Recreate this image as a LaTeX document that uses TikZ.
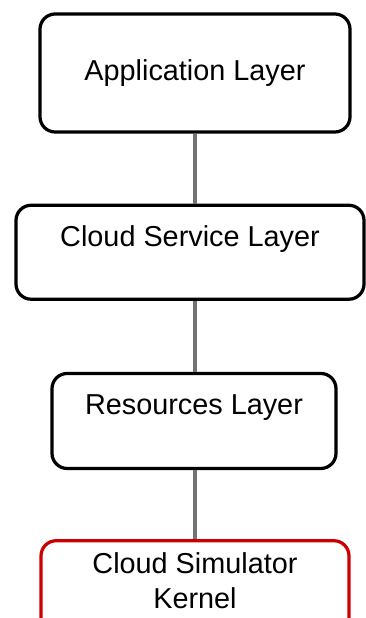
\documentclass[tikz,border=0pt]{standalone}
\usepackage{fontspec}
\setmainfont{Liberation Sans}
\usepackage{xcolor}
\usetikzlibrary{positioning}

\definecolor{kernelred}{HTML}{CC0000}
\definecolor{linkgray}{HTML}{737373}

\begin{document}
\begin{tikzpicture}[
    layer/.style={rectangle, draw, line width=2.3pt, rounded corners=0.38cm, align=center, font=\fontsize{20.5}{25}\selectfont},
    raised/.style={text depth=0.8cm},
    link/.style={draw=linkgray, line width=2.4pt},
]
\useasboundingbox (0,0) rectangle (9.125,-15.45);

% Layer stack, top to bottom
\node[layer, minimum width=7.75cm, minimum height=2.95cm] (app) at (4.875,-1.825) {Application Layer};
\node[layer, raised, minimum width=8.7cm, minimum height=2.35cm, below=1.75cm of app, xshift=-0.125cm] (service) {Cloud Service Layer};
\node[layer, raised, minimum width=7.1cm, minimum height=2.375cm, below=1.775cm of service, xshift=0.1cm] (resources) {Resources Layer};
\node[layer, raised, text depth=1.05cm, draw=kernelred, minimum width=7.7cm, minimum height=3.05cm, below=1.725cm of resources, xshift=0.025cm] (kernel) {Cloud Simulator\\Kernel};

% Connectors
\draw[link] (app.south) -- (app.south |- service.north);
\draw[link] (service.south -| app.south) -- (resources.north -| app.south);
\draw[link] (resources.south -| app.south) -- (kernel.north -| app.south);

\end{tikzpicture}
\end{document}
